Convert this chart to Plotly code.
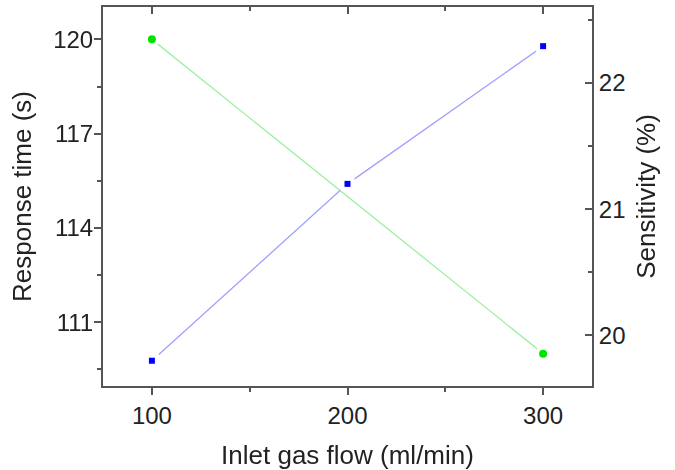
import plotly.graph_objects as go

flow = [100, 200, 300]
flow_resp = [100, 300]
response_time = [120.0, 110.0]
sensitivity = [19.80, 21.20, 22.29]

FONT = "Liberation Sans, Arial, sans-serif"
AXC = "#555555"
TXT = "#222222"

fig = go.Figure()

# lines
fig.add_trace(go.Scatter(x=flow_resp, y=response_time, mode="lines",
                         line=dict(color="#9ef09e", width=1.3), xaxis="x", yaxis="y",
                         hoverinfo="skip", showlegend=False))
fig.add_trace(go.Scatter(x=flow, y=sensitivity, mode="lines",
                         line=dict(color="#a0a0ff", width=1.3), xaxis="x", yaxis="y2",
                         hoverinfo="skip", showlegend=False))
# white halos for gaps
fig.add_trace(go.Scatter(x=flow_resp, y=response_time, mode="markers",
                         marker=dict(color="white", size=15, symbol="circle"),
                         xaxis="x", yaxis="y", hoverinfo="skip", showlegend=False))
fig.add_trace(go.Scatter(x=flow, y=sensitivity, mode="markers",
                         marker=dict(color="white", size=14, symbol="square"),
                         xaxis="x", yaxis="y2", hoverinfo="skip", showlegend=False))
# markers
fig.add_trace(go.Scatter(x=flow_resp, y=response_time, mode="markers",
                         marker=dict(color="#00e600", size=8, symbol="circle"),
                         xaxis="x", yaxis="y", name="Response time", showlegend=False))
fig.add_trace(go.Scatter(x=flow, y=sensitivity, mode="markers",
                         marker=dict(color="#0000ff", size=6, symbol="square"),
                         xaxis="x", yaxis="y2", name="Sensitivity", showlegend=False))
# top axis carrier (invisible)
fig.add_trace(go.Scatter(x=flow_resp, y=response_time, mode="markers", opacity=0,
                         xaxis="x2", yaxis="y", hoverinfo="skip", showlegend=False))

fig.update_layout(
    width=675, height=470,
    margin=dict(l=103, r=83, t=7, b=84),
    paper_bgcolor="white", plot_bgcolor="white",
    font=dict(family=FONT, color=TXT, size=24),
    xaxis=dict(range=[75, 325], tickvals=[100, 200, 300], ticks="outside", ticklen=7,
               tickwidth=2, tickcolor=AXC, showline=True, linecolor=AXC, linewidth=2,
               showgrid=False, zeroline=False, automargin=False,
               minor=dict(tickvals=[150, 250], ticks="outside", ticklen=4, tickwidth=2, tickcolor=AXC),
               tickfont=dict(size=24, color=TXT),
               title=dict(text="Inlet gas flow (ml/min)", font=dict(size=26, color=TXT), standoff=18)),
    xaxis2=dict(range=[75, 325], overlaying="x", side="top", anchor="y",
                tickvals=[100, 200, 300], ticks="inside", ticklen=7, tickwidth=2, tickcolor=AXC,
                showticklabels=False, showline=True, linecolor=AXC, linewidth=2,
                showgrid=False, zeroline=False, automargin=False,
                minor=dict(tickvals=[150, 250], ticks="inside", ticklen=4, tickwidth=2, tickcolor=AXC)),
    yaxis=dict(range=[108.97, 121.03], tickvals=[111, 114, 117, 120], ticks="outside", ticklen=7,
               tickwidth=2, tickcolor=AXC, showline=True, linecolor=AXC, linewidth=2,
               showgrid=False, zeroline=False, automargin=False, ticklabelstandoff=-4,
               minor=dict(tickvals=[109.5, 112.5, 115.5, 118.5], ticks="outside", ticklen=4,
                          tickwidth=2, tickcolor=AXC),
               tickfont=dict(size=24, color=TXT),
               title=dict(text="Response time (s)", font=dict(size=26, color=TXT), standoff=14)),
    yaxis2=dict(range=[19.6, 22.6], overlaying="y", side="right", anchor="x",
                tickvals=[20, 21, 22], ticks="inside", ticklen=7, tickwidth=2, tickcolor=AXC,
                showline=True, linecolor=AXC, linewidth=2, showgrid=False, zeroline=False,
                automargin=False,
                minor=dict(tickvals=[20.5, 21.5, 22.5], ticks="inside", ticklen=4,
                           tickwidth=2, tickcolor=AXC),
                tickfont=dict(size=24, color=TXT),
                title=dict(text="Sensitivity (%)", font=dict(size=26, color=TXT), standoff=12)),
)

fig.write_html("out.html", config={"displayModeBar": False},
               post_script="document.body.style.margin='0';")
